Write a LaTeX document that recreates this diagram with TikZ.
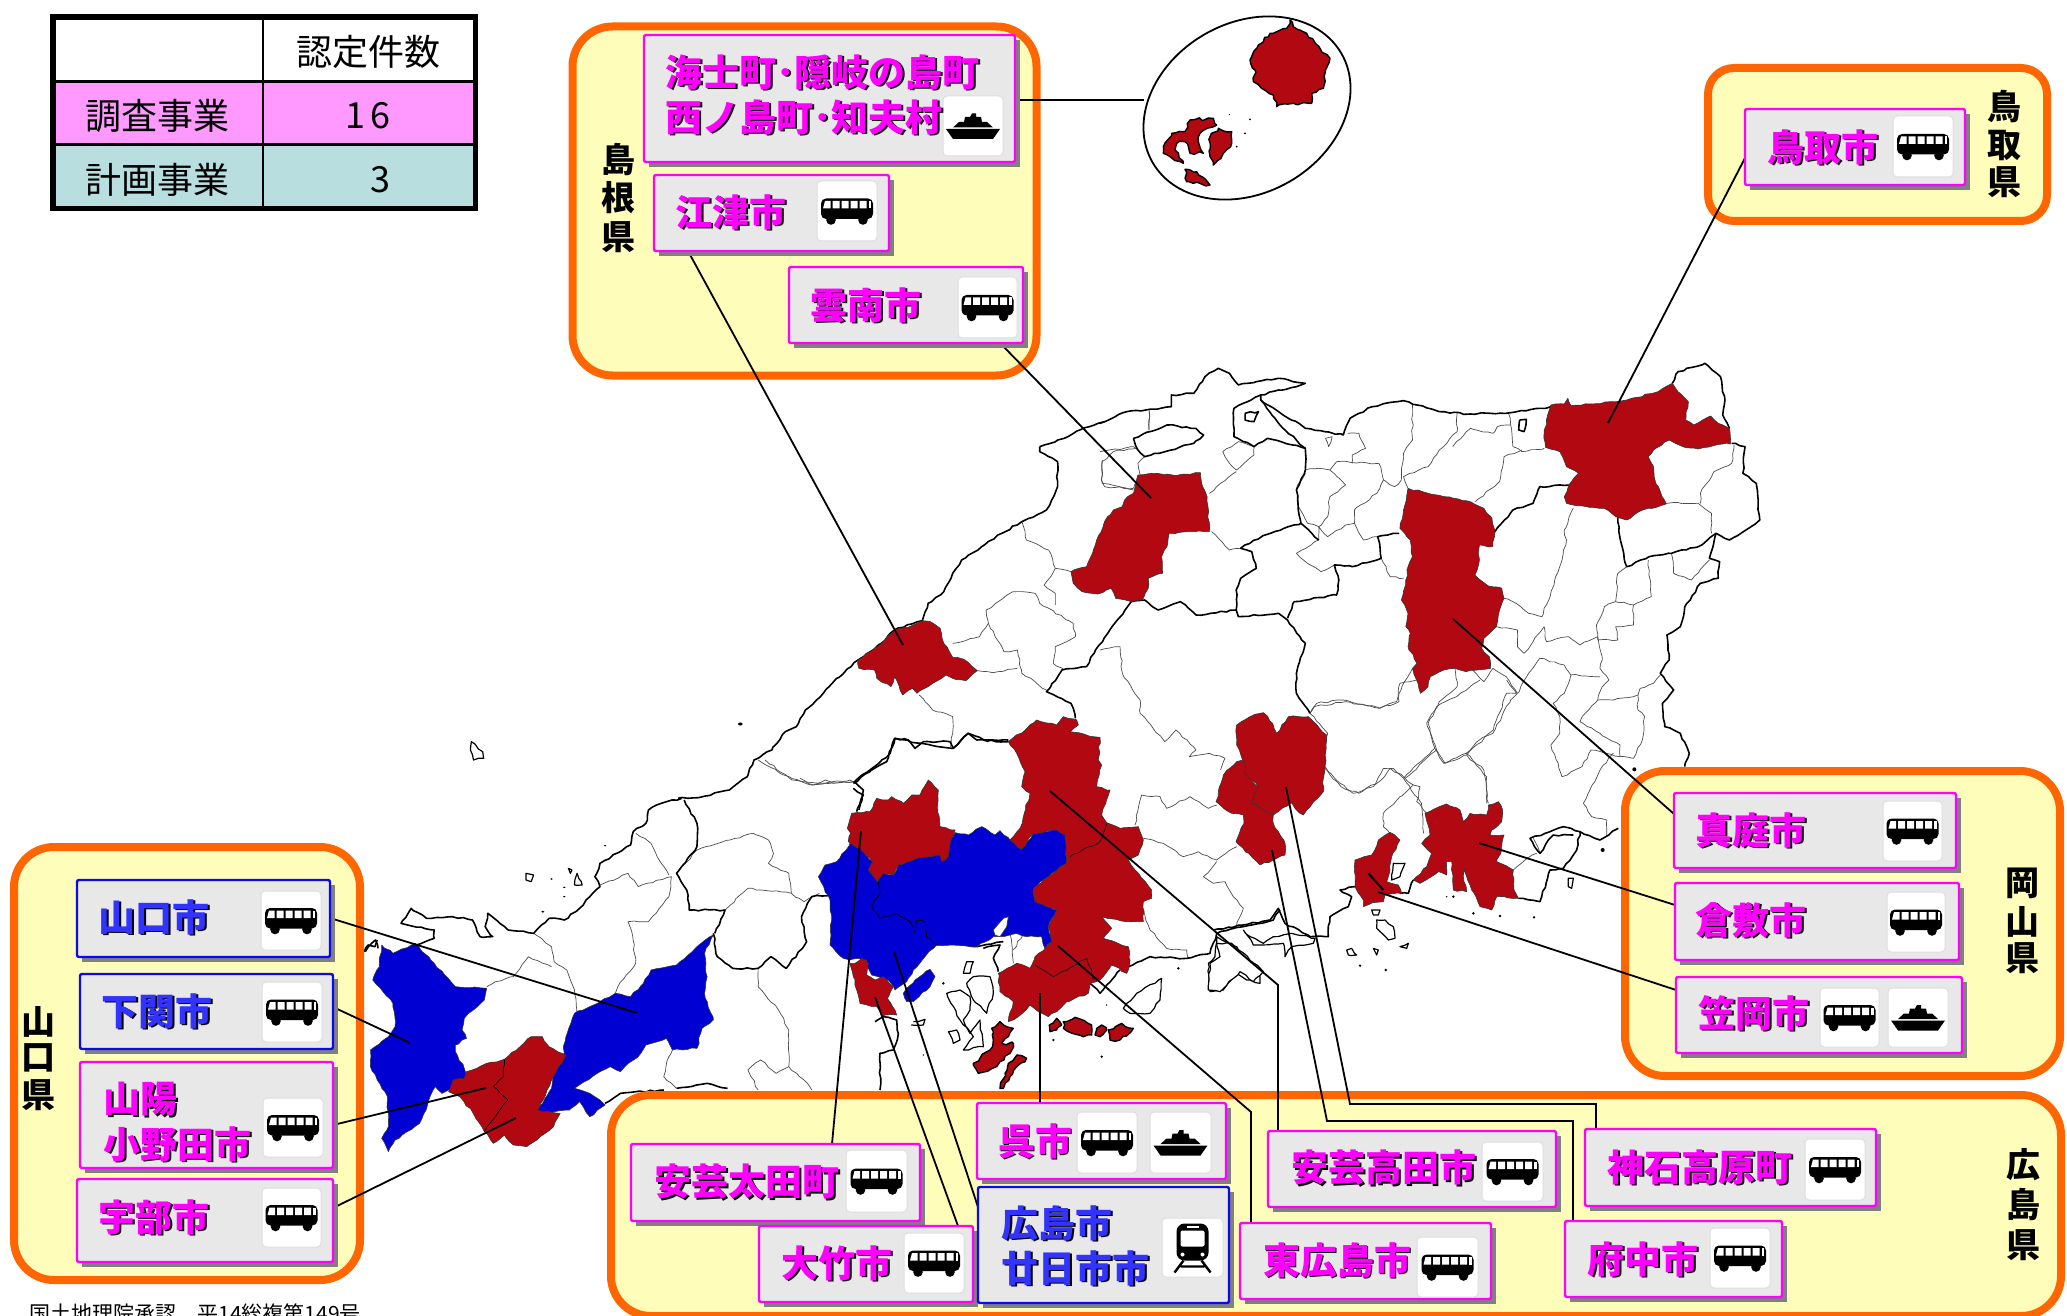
\documentclass[tikz,border=0pt]{standalone}
\usepackage{fontspec}
\setmainfont{Noto Sans CJK JP}
\usetikzlibrary{shapes.geometric,decorations.pathmorphing}
\definecolor{redm}{HTML}{B20811}
\definecolor{bluem}{HTML}{0000D2}
\definecolor{panelo}{HTML}{FF6600}
\definecolor{panely}{HTML}{FFFDB9}
\definecolor{boxg}{HTML}{E8E8E8}
\definecolor{magl}{HTML}{FF00FF}
\definecolor{blul}{HTML}{0A0AF0}
\definecolor{blut}{HTML}{3333FF}
\definecolor{cellp}{HTML}{FF99FF}
\definecolor{cellt}{HTML}{B8DEE0}
\tikzset{
 zmB/.style={shift={(600,340)},xscale=.4464,yscale=.33333},
 zmC/.style={shift={(1100,340)},xscale=.4464,yscale=.33333},
 zmD/.style={shift={(350,700)},xscale=.5102,yscale=.33333},
 zmE/.style={shift={(0,830)},xscale=.4464,yscale=.33333},
 zmJ/.style={shift={(800,700)},xscale=.33333,yscale=.33333},
 zmK/.style={shift={(1200,680)},xscale=.33333,yscale=.33333},
 zmH/.style={shift={(1130,10)},xscale=.33333,yscale=.33333},
 jag/.style={decorate,decoration={random steps,segment length=2.5pt,amplitude=.45pt}},
 jagb/.style={decorate,decoration={random steps,segment length=2.2pt,amplitude=.8pt}},
 thinl/.style={jag,draw=black!70,line width=.35pt,line join=round},
 thickl/.style={jag,draw=black,line width=.8pt,line join=round},
 isl/.style={jag,draw=black,line width=.6pt,line join=round,fill=white},
 redr/.style={jag,draw=black!80,line width=.3pt,fill=redm,line join=round},
 bluer/.style={jag,draw=black!80,line width=.3pt,fill=bluem,line join=round},
 redi/.style={jagb,draw=black,line width=.7pt,fill=redm,line join=round},
 conn/.style={draw=black,line width=.9pt,line join=miter},
 rectn/.style={rectangle,inner sep=0pt,outer sep=0pt,anchor=north west},
 panelbox/.style={rectn,fill=panely,draw=panelo,line width=4pt,rounded corners=20pt},
 magbox/.style={rectn,fill=boxg,draw=magl,line width=1.2pt,rounded corners=1pt},
 blubox/.style={rectn,fill=boxg,draw=blul,line width=1.2pt,rounded corners=1pt},
 tilebox/.style={rectn,fill=white,draw=black!13,line width=.5pt,rounded corners=2pt},
 cellbox/.style={rectn},
 tabt/.style={inner sep=0pt,font=\fontsize{18}{20}\selectfont,text=black},
 preft/.style={inner sep=0pt,font=\fontsize{17}{19}\selectfont\bfseries,text=black},
 labm/.style={inner sep=0pt,font=\fontsize{18.5}{20}\selectfont\bfseries,text=magl},
 labb/.style={inner sep=0pt,font=\fontsize{18.5}{20}\selectfont\bfseries,text=blut},
 labs/.style={inner sep=0pt,font=\fontsize{18.5}{20}\selectfont\bfseries,text=black},
 busicon/.pic={
  \fill[black,rounded corners=2.5pt] (-26,-12.5) rectangle (26,8);
  \fill[black] (-16,9) circle (2.4pt) (16,9) circle (2.4pt);
  \fill[white] (-22,-10) -- (-16.5,-10) -- (-16.5,-2.5) -- (-24,-2.5) -- cycle;
  \fill[white] (-14.5,-10) rectangle (-7.5,-2.5) (-5.5,-10) rectangle (1.5,-2.5)
    (3.5,-10) rectangle (10.5,-2.5) (12.5,-10) rectangle (19.5,-2.5);
  \fill[white] (21.5,-10) rectangle (24,-2.5);
 },
 shipicon/.pic={
  \fill[black] (-27,3) -- (27,3) -- (20,13) -- (-20,13) -- cycle;
  \fill[black] (-20,1.5) -- (20,1.5) -- (14,-4) -- (9,-4) -- (8,-9) -- (3,-9) -- (3,-12.5) -- (-1,-12.5) -- (-3,-9) -- (-8,-9) -- (-9,-4) -- (-14,-4) -- cycle;
 },
 trainicon/.pic={
  \fill[black,rounded corners=4pt] (-16,-24) rectangle (16,13);
  \fill[white,rounded corners=1pt] (-12,-17) rectangle (12,-1);
  \fill[white] (-6,-22) rectangle (6,-20);
  \fill[white] (-10,7) circle (1pt) (10,7) circle (1pt);
  \draw[black,line width=1.2pt] (-9,13) -- (-18,25) (9,13) -- (18,25) (-12,19) -- (12,19);
 },
}
\newcommand{\rectnode}[6]{%
 \pgfmathsetmacro\rw{(#5-#3)*0.5}\pgfmathsetmacro\rh{(#6-#4)*0.5}%
 \node[#1,minimum width=\rw pt,minimum height=\rh pt] (#2) at (#3,#4) {};}
\newcommand{\shbox}[6]{%
 \fill[black!50] (#3+5,#4+5) rectangle (#5+5,#6+5);
 \rectnode{#1}{#2}{#3}{#4}{#5}{#6}}
\newcommand{\tile}[6]{%
 \rectnode{tilebox}{#1}{#2}{#3}{#4}{#5}
 \pic at (#1.center) {#6};}
\newcommand{\lab}[6][center]{%
 \node[labs,anchor=#1] (#2s) at (#3+1.6,#4+1.6) {#6};
 \node[#5,anchor=#1] (#2) at (#3,#4) {#6};}
\newcommand{\vpref}[8]{%
 \node[preft] (#1a) at (#2,#3) {#6};
 \node[preft] (#1b) at (#2,#4) {#7};
 \node[preft] (#1c) at (#2,#5) {#8};}
\begin{document}
\begin{tikzpicture}[x=.5pt,y=-.5pt]
\pgfmathsetseed{4242}
\path[use as bounding box] (0,0) rectangle (2067,1316);
\clip (0,0) rectangle (2067,1316);
\fill[white] (0,0) rectangle (2067,1316);
% ---------- map : thin municipal lines
\begin{scope}[zmC]
\draw[thinl] plot coordinates {(110,215) (110,270)};
\draw[thinl] plot coordinates {(0,335) (75,320) (85,330)};
\draw[thinl] plot coordinates {(100,350) (85,370) (90,405) (75,445)};
\draw[thinl] plot coordinates {(5,360) (3,420) (10,440) (75,445)};
\draw[thinl] plot coordinates {(275,335) (310,305) (345,320) (345,345) (305,390) (280,350) (275,335)};
\draw[thinl] plot coordinates {(245,460) (305,395)};
\draw[thinl] plot coordinates {(250,575) (290,630) (315,625)};
\draw[thinl] plot coordinates {(700,195) (700,300) (680,340) (675,420) (660,440) (635,420) (620,460) (570,510) (570,550) (590,600) (620,590)};
\draw[thinl] plot coordinates {(800,220) (800,275) (760,330) (735,380) (680,410) (690,445)};
\draw[thinl] plot coordinates {(915,220) (920,255) (890,260) (880,280) (830,265) (790,320)};
\draw[thinl] plot coordinates {(920,255) (925,320) (945,335) (995,325)};
\draw[thinl] plot coordinates {(840,485) (895,425) (905,350) (945,330)};
\draw[thinl] plot coordinates {(460,390) (490,385) (515,390) (530,365) (625,370) (635,420)};
\draw[thinl] plot coordinates {(515,390) (550,435) (515,470) (510,530) (490,560) (465,550) (445,500) (440,445) (460,400)};
\draw[thinl] plot coordinates {(490,600) (490,560) (510,590) (550,555) (570,550)};
\draw[thinl] plot coordinates {(490,600) (440,640) (465,670) (495,695) (525,675)};
\draw[thinl] plot coordinates {(630,655) (650,710) (680,715)};
\draw[thinl] plot coordinates {(555,280) (580,280) (595,325) (565,345) (565,370)};
\draw[thinl] plot coordinates {(505,295) (520,290) (512,320) (505,295)};
\draw[thinl] plot coordinates {(1060,505) (1040,570) (1045,600) (1030,680) (990,830) (960,820) (925,785) (905,775)};
\draw[thinl] plot coordinates {(1160,530) (1270,490) (1340,490) (1370,520) (1370,580)};
\draw[thinl] plot coordinates {(1345,490) (1345,460) (1375,395) (1415,370) (1420,315)};
\draw[thinl] plot coordinates {(1280,640) (1285,700) (1325,720) (1365,660)};
\draw[thinl] plot coordinates {(1228,660) (1235,770) (1195,795) (1155,785) (1160,700) (1180,680)};
\draw[thinl] plot coordinates {(1195,795) (1195,855) (1155,860) (1160,900) (1115,900) (1112,855) (1130,800) (1155,785)};
\draw[thinl] plot coordinates {(888,860) (935,870) (935,920) (950,940) (995,860) (1000,905) (1050,890) (1075,915) (1115,890) (1125,960) (1120,985) (1140,1020) (1125,1040) (1115,1080) (1150,1080) (1205,1065) (1210,1045) (1240,1030) (1255,1005)};
\draw[thinl] plot coordinates {(795,985) (800,1040) (760,1085) (735,1150) (750,1225) (770,1270) (820,1240) (850,1200) (880,1180) (920,1080) (935,1060) (910,1010) (880,985) (860,1025) (835,990)};
\draw[thinl] plot coordinates {(985,955) (960,1000) (935,1060)};
\draw[thinl] plot coordinates {(985,955) (1040,975) (1055,1005) (1120,1010)};
\draw[thinl] plot coordinates {(1055,1005) (1040,1060) (1015,1090) (1030,1130) (1030,1180) (1010,1215) (1035,1310) (1080,1280) (1100,1230) (1165,1250)};
\draw[thinl] plot coordinates {(1205,1065) (1205,1110) (1220,1130) (1215,1200) (1195,1255) (1165,1250) (1165,1215) (1120,1180) (1075,1145) (1080,1130) (1115,1080)};
\draw[thinl] plot coordinates {(700,985) (670,1060) (670,1085) (625,1105) (550,1085) (480,1100) (470,1120)};
\draw[thinl] plot coordinates {(470,1120) (510,1180) (500,1280) (540,1340) (580,1360) (630,1320) (650,1285) (680,1315) (750,1225)};
\draw[thinl] plot coordinates {(680,1315) (720,1390) (725,1480)};
\draw[thinl] plot coordinates {(820,1240) (860,1290) (870,1390)};
\draw[thinl] plot coordinates {(0,930) (45,920) (50,1000) (90,1080) (90,1120) (145,1205) (170,1170) (215,1230) (200,1250) (245,1240) (280,1255) (270,1290)};
\end{scope}
\begin{scope}[zmJ]
\draw[thinl] plot coordinates {(1005,375) (1025,285) (1080,290) (1100,325) (1170,290) (1225,325) (1250,315)};
\draw[thinl] plot coordinates {(1030,415) (1090,430) (1150,470) (1195,455) (1250,480) (1310,440)};
\draw[thinl] plot coordinates {(1250,485) (1210,530) (1240,550) (1275,545) (1300,590) (1330,625) (1310,675)};
\draw[thinl] plot coordinates {(1030,630) (1050,690) (1100,745) (1160,750) (1165,775)};
\draw[thinl] plot coordinates {(630,700) (640,790)};
\draw[thinl] plot coordinates {(670,700) (640,750)};
\draw[thinl] plot coordinates {(0,235) (40,255) (75,240) (100,250) (160,245)};
\end{scope}
\begin{scope}[zmB]
\draw[thinl] plot coordinates {(945,545) (955,600) (1005,630) (1020,685) (1055,695)};
\draw[thinl] plot coordinates {(1020,685) (995,735) (1020,760) (1020,795)};
\draw[thinl] plot coordinates {(865,810) (925,755) (975,760) (985,790) (1060,850) (1065,890) (1020,920) (1015,970) (1040,990)};
\draw[thinl] plot coordinates {(865,810) (870,850) (850,890) (790,910)};
\draw[thinl] plot coordinates {(870,850) (905,935) (935,930) (945,1000) (1000,1050)};
\draw[thinl] plot coordinates {(845,992) (880,998) (935,985)};
\draw[thinl] plot coordinates {(715,1065) (745,1110) (790,1130) (790,1180) (785,1220)};
\draw[thinl] plot coordinates {(1230,270) (1230,210)};
\draw[thinl] plot coordinates {(1195,450) (1125,430) (1125,365) (1150,335) (1200,325)};
\draw[thinl] plot coordinates {(370,1260) (430,1320) (490,1330) (570,1325)};
\end{scope}
\begin{scope}[zmK]
\draw[thinl] plot coordinates {(330,100) (350,70) (430,60) (540,85) (590,65) (600,10) (650,0)};
\draw[thinl] plot coordinates {(375,260) (420,310) (460,340) (520,320) (550,265) (580,265) (615,295) (640,315) (600,350) (550,400) (550,440) (570,460)};
\draw[thinl] plot coordinates {(640,315) (660,320) (650,365) (680,400)};
\draw[thinl] plot coordinates {(615,295) (710,210) (735,250) (800,225) (860,290) (860,370)};
\draw[thinl] plot coordinates {(710,210) (680,130) (710,80) (770,50) (840,0)};
\draw[thinl] plot coordinates {(800,225) (880,150) (920,40) (950,40) (920,0)};
\draw[thinl] plot coordinates {(940,570) (975,540) (1010,520)};
\draw[thinl] plot coordinates {(1150,370) (1175,410) (1220,420) (1220,470)};
\draw[thinl] plot coordinates {(1150,370) (1200,270) (1240,220)};
\draw[thinl] plot coordinates {(1000,475) (1020,520)};
\end{scope}
\begin{scope}[zmD]
\draw[thinl] plot coordinates {(360,700) (395,740) (400,785) (425,810) (440,870) (445,940)};
\draw[thinl] plot coordinates {(268,860) (285,845) (320,830) (350,770) (395,800)};
\draw[thinl] plot coordinates {(490,555) (545,520) (565,560) (630,530) (625,590) (600,640) (585,665) (545,665) (555,720) (560,790) (525,860) (520,880)};
\draw[thinl] plot coordinates {(560,400) (590,430) (610,490) (625,525)};
\draw[thinl] plot coordinates {(640,520) (680,450) (745,420) (790,400) (820,420) (830,460) (820,490) (860,520) (865,580) (780,565) (735,630)};
\draw[thinl] plot coordinates {(865,580) (890,605) (920,580)};
\draw[thinl] plot coordinates {(800,805) (800,860) (840,930) (860,990) (860,1100) (890,1140) (905,1170)};
\draw[thinl] plot coordinates {(800,1170) (780,1110) (805,1080) (835,1120) (860,1100)};
\draw[thinl] plot coordinates {(632,1050) (625,1070) (615,1130) (640,1165)};
\draw[thinl] plot coordinates {(800,180) (850,225) (905,255) (980,240) (1000,260)};
\end{scope}
% ---------- map : thick coast and prefecture lines
\begin{scope}[zmB]
\draw[thickl] plot coordinates {(985,320) (985,335) (1025,365) (1025,440) (1000,510) (945,545) (900,580) (855,620) (810,660) (790,700) (770,755) (735,790) (722,842) (660,870) (630,910) (578,960) (530,1015) (500,1060) (460,1110) (440,1160) (415,1175) (385,1230) (345,1260) (330,1310) (290,1350) (230,1370) (175,1375)};
\draw[thickl] plot coordinates {(985,320) (1040,295) (1075,270) (1130,245)};
\draw[thickl] plot coordinates {(915,1200) (860,1200) (825,1180) (790,1225) (720,1210) (660,1195) (650,1240) (570,1325) (590,1350) (580,1410)};
\draw[thickl] plot coordinates {(1065,1135) (1055,1090) (1000,1055) (1035,990) (1090,980) (1110,930) (1190,785)};
\end{scope}
\begin{scope}[zmC]
\draw[thickl] plot coordinates {(0,250) (60,215) (160,200) (160,165) (210,160) (235,110) (265,85) (290,100) (310,135) (350,125) (400,115) (460,130) (440,140) (400,150) (360,165) (300,205) (300,290) (345,320) (375,295) (460,325) (460,390) (440,450) (450,550)};
\draw[thickl] plot coordinates {(75,295) (150,255) (215,265) (232,285) (210,310) (100,350) (85,330) (75,295)};
\draw[thickl] plot coordinates {(325,220) (355,215) (345,245) (325,240) (325,220)};
\draw[thickl] plot coordinates {(360,180) (400,215) (460,265) (545,285) (560,235) (610,200) (680,182) (760,215) (830,222) (920,218) (1010,200)};
\draw[thickl] plot coordinates {(360,165) (360,180) (385,225) (400,250) (460,325)};
\draw[thickl] plot coordinates {(940,240) (955,238) (950,275) (938,270) (940,240)};
\draw[thickl] plot coordinates {(70,785) (100,780) (130,810) (180,785) (215,825) (305,810) (310,830) (400,820) (420,840) (460,910) (440,1000) (440,1060) (470,1120)};
\draw[thickl] plot coordinates {(305,810) (305,750) (315,715) (350,685) (340,635) (315,625) (370,585) (450,550) (490,600)};
\draw[thickl] plot coordinates {(420,835) (435,785) (530,765) (535,720) (525,675) (565,680) (630,655) (622,590) (670,580)};
\draw[thickl] plot coordinates {(885,575) (925,510) (970,490) (985,440) (1050,435)};
\draw[thickl] plot coordinates {(1160,530) (1165,595) (1180,680) (1230,650) (1280,640) (1340,620) (1380,580) (1410,600) (1478,540) (1470,430) (1440,400) (1445,320) (1415,310)};
\draw[thickl] plot coordinates {(1282,130) (1295,95) (1355,70) (1390,110) (1400,180) (1395,225) (1410,265)};
\draw[thickl] plot coordinates {(1380,580) (1365,655) (1388,665) (1385,715) (1345,730) (1310,800) (1300,860) (1270,885) (1275,960) (1255,1000) (1285,1050) (1260,1090) (1265,1160) (1300,1180) (1320,1240) (1310,1280)};
\end{scope}
\begin{scope}[zmJ]
\draw[thickl] plot coordinates {(160,250) (215,210) (260,185) (285,115) (325,120) (345,145) (370,125) (450,125) (460,145) (505,100) (530,120) (625,125)};
\draw[thickl] plot coordinates {(160,265) (190,285) (170,335)};
\draw[thickl] plot coordinates {(410,735) (470,730) (530,740) (610,725)};
\draw[thickl] plot coordinates {(985,800) (1050,770) (1160,775) (1230,760) (1250,700) (1330,680) (1420,660) (1440,630)};
\draw[isl] plot coordinates {(1225,790) (1245,770) (1250,710) (1265,720) (1310,740) (1340,790) (1380,830) (1380,850) (1340,840) (1310,820) (1270,870) (1230,875)} -- cycle;
\draw[isl] plot coordinates {(440,880) (480,870) (510,890) (510,930) (490,960) (510,1000) (540,960) (550,1040) (490,1050) (520,1010) (480,960)} -- cycle;
\draw[isl] plot coordinates {(445,995) (470,990) (480,1020) (460,1030)} -- cycle;
\draw[isl] plot coordinates {(500,850) (520,830) (570,830) (580,880) (560,940) (520,900)} -- cycle;
\draw[isl] plot coordinates {(500,785) (520,785) (510,820) (490,820)} -- cycle;
\draw[isl] plot coordinates {(970,925) (1010,880) (1085,835) (1080,900) (1050,940) (990,940)} -- cycle;
\draw[thickl] plot coordinates {(225,965) (250,950) (290,960) (295,1000) (280,1050) (240,1060) (240,1170)};
\draw[isl] plot coordinates {(340,965) (375,958) (370,975) (345,975)} -- cycle;
\draw[thickl] plot coordinates {(550,745) (600,735) (580,775) (595,815)};
\draw[thickl] plot coordinates {(870,850) (900,880) (935,840) (960,810)};
\fill[black] (905,1070) circle (2pt) (430,850) circle (2pt) (1135,805) circle (2pt) (760,1020) circle (2pt) (370,1065) circle (1.2pt) (920,915) circle (1.2pt);
\end{scope}
\begin{scope}[zmK]
\draw[thickl] plot coordinates {(40,750) (130,735) (210,720) (235,685) (255,730) (330,770) (385,770) (390,710) (445,680) (455,650) (420,630) (465,620)};
\draw[isl] plot coordinates {(130,750) (150,770) (190,790) (220,770) (275,760) (345,775) (340,790) (275,800) (255,830) (250,790) (160,795)} -- cycle;
\draw[isl] plot coordinates {(25,930) (30,850) (60,830) (50,790) (95,790) (190,875) (160,905) (120,875) (60,935)} -- cycle;
\draw[isl] plot coordinates {(440,810) (455,805) (470,825) (445,825)} -- cycle;
\draw[isl] plot coordinates {(530,720) (555,720) (580,740) (585,775) (565,780) (530,745)} -- cycle;
\draw[isl] plot coordinates {(520,805) (535,810) (530,825)} -- cycle;
\draw[isl] plot coordinates {(600,800) (625,790) (620,805)} -- cycle;
\draw[isl] plot coordinates {(515,690) (540,690) (535,705) (520,705)} -- cycle;
\draw[isl] plot coordinates {(575,600) (580,550) (615,550) (600,590)} -- cycle;
\draw[thickl] plot coordinates {(600,640) (625,640) (640,600)};
\draw[thickl] plot coordinates {(955,655) (1020,665) (1050,570) (1090,565) (1130,510) (1140,455) (1090,440) (1035,460) (990,475) (1020,520) (1045,480) (1060,465) (1120,465)};
\draw[thickl] plot coordinates {(1140,455) (1200,480) (1255,445)};
\draw[isl] plot coordinates {(1105,595) (1120,595) (1115,625) (1105,620)} -- cycle;
\fill[black] (480,857) circle (2pt) (557,870) circle (2pt) (820,700) circle (2pt) (900,708) circle (2pt) (1002,712) circle (2pt) (1208,510) circle (3pt) (1303,268) circle (3pt) (760,650) circle (2pt) (740,650) circle (1.2pt);
\end{scope}
\begin{scope}[zmD]
\draw[thickl] plot coordinates {(650,295) (610,310) (585,330) (580,370) (555,395) (550,435) (490,490) (480,530) (490,560) (470,590) (450,625) (420,660) (390,655) (360,700) (310,690) (270,640) (265,680) (280,710) (255,710) (240,660) (200,650) (150,655) (120,625) (100,670) (165,690) (165,715) (130,735)};
\draw[thickl] plot coordinates {(655,300) (680,370) (680,440) (640,520) (660,570) (665,630) (735,630) (715,700)};
\draw[thickl] plot coordinates {(712,700) (720,770) (750,805) (800,805) (825,770) (855,805) (895,725) (885,650) (905,590) (940,585)};
\draw[thickl] plot coordinates {(30,755) (50,720) (55,745)};
\draw[thickl] plot coordinates {(500,1210) (530,1180) (615,1170)};
\draw[thickl] plot coordinates {(640,1165) (700,1150) (740,1165)};
\draw[isl] plot coordinates {(238,125) (260,155) (262,175) (242,180) (236,150)} -- cycle;
\draw[isl] plot coordinates {(345,520) (360,525) (355,545) (345,540)} -- cycle;
\draw[isl] plot coordinates {(445,520) (455,555) (440,555)} -- cycle;
\draw[isl] plot coordinates {(428,505) (435,510) (432,520)} -- cycle;
\fill[black] (765,72) circle (2.3pt) (395,537) circle (1.2pt) (420,562) circle (1.2pt) (420,590) circle (1.2pt) (378,635) circle (1.5pt) (500,437) circle (1.2pt);
\end{scope}
% ---------- map : coloured municipalities
\begin{scope}[zmJ]
\path[bluer] plot coordinates {(150,430) (175,445) (218,485) (205,510) (232,545) (250,520) (280,525) (295,495) (350,475) (420,465) (425,485) (445,470) (452,420) (465,398) (505,405) (545,380) (585,405) (600,392) (630,420) (665,448) (700,400) (770,390) (795,405) (800,490) (780,500) (745,530) (700,565) (705,605) (770,630) (745,680) (755,725) (735,745) (725,710) (680,710) (650,700) (610,710) (580,710) (530,740) (410,735) (375,770) (340,810) (320,845) (285,870) (265,840) (235,830) (215,825) (205,805) (200,780) (175,775) (150,780) (130,775) (90,735) (95,660) (90,600) (55,530) (75,495) (110,485)} -- cycle;
\path[fill=white,draw=black!80,line width=.3pt] plot coordinates {(580,690) (610,655) (625,650) (620,680) (600,710) (585,705)} -- cycle;
\path[bluer] plot coordinates {(310,880) (345,840) (390,808) (405,830) (390,860) (340,905) (320,905)} -- cycle;
\draw[thinl,draw=black] plot coordinates {(235,545) (240,575) (215,620) (240,655) (290,640) (330,665) (345,700) (350,660) (375,665) (380,710) (410,735)};
\path[redr] plot coordinates {(385,240) (415,270) (412,320) (420,380) (465,390) (452,420) (445,470) (425,485) (420,465) (350,475) (295,495) (280,525) (250,520) (232,545) (205,510) (218,485) (175,445) (145,425) (152,400) (142,385) (155,340) (210,335) (230,295) (265,300) (275,290) (310,310) (335,285) (360,285)} -- cycle;
\path[redr] plot coordinates {(150,790) (165,790) (185,775) (205,790) (200,825) (225,840) (250,830) (280,860) (262,895) (285,930) (290,945) (245,948) (230,920) (180,910) (170,870) (160,830)} -- cycle;
\path[redr] plot coordinates {(625,125) (680,85) (710,60) (770,75) (790,50) (830,60) (835,75) (810,95) (900,112) (895,180) (905,195) (890,260) (930,270) (905,345) (920,368) (960,385) (1015,380) (1030,420) (1015,465) (985,480) (1005,510) (1055,570) (1055,595) (1030,605) (1030,665) (980,665) (905,650) (935,685) (910,715) (985,740) (990,780) (980,820) (935,795) (900,840) (870,850) (865,880) (800,905) (770,935) (745,950) (715,935) (690,915) (655,950) (625,965) (640,905) (600,875) (595,820) (650,790) (690,805) (705,770) (735,745) (755,725) (745,680) (770,630) (705,605) (700,565) (745,530) (780,500) (800,490) (795,405) (770,390) (700,400) (665,448) (630,420) (660,385) (690,280) (665,260) (675,215) (650,160)} -- cycle;
\draw[thinl,draw=black!90] plot coordinates {(810,470) (900,425) (920,370)};
\draw[thinl,draw=black!90] plot coordinates {(705,795) (760,830) (860,775) (875,810) (880,840)};
\path[redi] plot coordinates {(575,985) (600,965) (640,985) (625,1010) (605,1030) (640,1030) (630,1060) (600,1085) (590,1100) (535,1120) (520,1090) (570,1050) (580,1020)} -- cycle;
\path[redi] plot coordinates {(625,1090) (650,1065) (680,1075) (650,1100) (630,1130) (610,1165) (600,1165) (615,1120)} -- cycle;
\path[redi] plot coordinates {(748,975) (770,955) (785,975) (770,990) (750,995)} -- cycle;
\path[redi] plot coordinates {(790,965) (825,952) (875,975) (875,1005) (850,1010) (790,985)} -- cycle;
\path[redi] plot coordinates {(890,985) (905,975) (920,990) (900,1010) (885,1005)} -- cycle;
\path[redi] plot coordinates {(925,990) (965,970) (1000,985) (960,1020) (930,1020)} -- cycle;
\end{scope}
\begin{scope}[zmK]
\path[redr] plot coordinates {(110,245) (135,240) (135,280) (175,320) (155,370) (220,405) (220,430) (255,490) (255,525) (220,540) (180,555) (108,485) (132,430) (130,405) (95,400) (48,365) (70,285)} -- cycle;
\path[redr] plot coordinates {(110,135) (150,110) (190,98) (218,130) (230,160) (265,110) (325,110) (380,165) (375,260) (370,295) (370,335) (310,405) (285,385) (275,368) (220,405) (155,370) (175,320) (135,280) (135,250) (110,195)} -- cycle;
\path[redr] plot coordinates {(465,540) (515,525) (535,480) (570,457) (600,480) (575,530) (570,570) (560,605) (595,615) (605,640) (555,645) (550,665) (510,672) (490,680) (490,660) (465,620)} -- cycle;
\draw[black,line width=1pt] plot coordinates {(505,580) (550,630)};
\path[redr] plot coordinates {(675,400) (740,372) (780,390) (790,425) (810,400) (860,405) (865,375) (895,365) (908,390) (905,425) (875,450) (870,465) (912,465) (905,510) (890,545) (940,570) (942,630) (955,655) (890,650) (875,690) (840,680) (815,630) (800,590) (795,565) (790,590) (800,635) (760,630) (755,545) (740,545) (740,585) (715,575) (660,610) (640,600) (680,560) (695,520) (665,490) (690,465)} -- cycle;
\end{scope}
\begin{scope}[zmC]
\path[redr] plot coordinates {(1010,195) (1040,192) (1048,175) (1055,197) (1100,192) (1180,180) (1250,155) (1282,130) (1300,160) (1318,185) (1312,240) (1330,255) (1350,240) (1368,228) (1385,250) (1410,265) (1413,312) (1395,312) (1340,327) (1310,322) (1275,300) (1240,330) (1228,350) (1240,380) (1245,430) (1268,492) (1215,510) (1180,540) (1155,530) (1130,505) (1090,500) (1045,490) (1040,470) (1050,435) (1072,400) (1045,380) (1030,335) (998,322) (995,270)} -- cycle;
\path[redr] plot coordinates {(690,445) (730,458) (770,470) (820,482) (860,505) (878,535) (885,575) (880,620) (850,615) (850,660) (840,705) (870,738) (900,745) (905,775) (895,810) (888,860) (860,895) (855,925) (872,950) (875,985) (820,995) (795,985) (770,990) (740,1010) (735,1040) (718,1060) (700,985) (710,970) (690,920) (695,880) (685,860) (690,820) (675,780) (685,720) (690,680) (700,650) (695,600) (672,565) (680,510)} -- cycle;
\end{scope}
\begin{scope}[zmB]
\path[redr] plot coordinates {(1205,405) (1240,400) (1290,407) (1345,398) (1350,440) (1360,470) (1365,575) (1320,575) (1275,580) (1270,620) (1258,650) (1260,700) (1228,715) (1228,745) (1215,780) (1190,785) (1155,775) (1145,745) (1115,762) (1080,755) (1060,730) (1055,695) (1090,680) (1105,630) (1130,545) (1150,510) (1170,500) (1175,480) (1195,460)} -- cycle;
\path[redr] plot coordinates {(722,842) (740,845) (762,865) (770,910) (790,952) (815,958) (845,992) (820,1022) (790,1015) (775,1005) (745,1030) (710,1060) (700,1045) (678,1065) (660,1010) (652,1040) (620,1015) (615,990) (580,985) (578,960) (630,910) (660,870) (690,862)} -- cycle;
\end{scope}
\begin{scope}[zmD]
\path[bluer] plot coordinates {(712,705) (695,760) (700,830) (695,880) (712,960) (690,985) (680,1045) (632,1050) (620,1015) (580,1035) (570,1060) (530,1115) (510,1100) (475,1130) (440,1165) (470,1180) (490,1200) (500,1215) (470,1250) (450,1205) (430,1230) (380,1240) (365,1235) (395,1165) (400,1100) (420,1060) (418,1040) (440,940) (490,905) (520,880) (550,890) (575,850) (590,810) (640,795) (680,740)} -- cycle;
\end{scope}
\begin{scope}[zmE]
\path[bluer] plot coordinates {(855,345) (880,370) (930,340) (965,390) (1020,470) (1090,475) (1085,510) (1040,565) (1035,600) (1045,625) (1020,645) (1020,665) (1040,715) (1045,745) (1005,780) (990,790) (975,770) (940,880) (885,930) (870,965) (855,925) (870,890) (868,800) (830,710) (830,660) (870,620) (885,590) (880,520) (835,450) (850,410)} -- cycle;
\path[redr] plot coordinates {(1130,688) (1165,650) (1190,620) (1215,620) (1230,650) (1268,675) (1240,740) (1205,840) (1255,850) (1240,890) (1180,950) (1150,945) (1130,915) (1105,940) (1085,905) (1060,850) (1030,800) (1005,785) (1015,750) (1040,745) (1045,725) (1090,700)} -- cycle;
\draw[thinl,draw=black] plot coordinates {(1130,688) (1128,740) (1105,770) (1138,810) (1110,860) (1085,905)};
\draw[thickl] plot coordinates {(815,365) (825,345) (840,350) (845,330)};
\end{scope}
% ---------- oval with the Oki islands
\node[draw=black,line width=.9pt,ellipse,fill=white,inner sep=0pt,rotate=30,minimum width=109pt,minimum height=85pt] (oval) at (1247,108) {};
\begin{scope}[zmH]
\path[redi] plot coordinates {(480,30) (490,50) (530,70) (570,115) (600,145) (585,190) (580,235) (545,250) (545,280) (490,280) (440,290) (430,255) (395,235) (370,215) (375,180) (360,150) (385,105) (420,70) (470,55)} -- cycle;
\path[redi] plot coordinates {(100,410) (125,370) (165,365) (180,330) (250,325) (260,345) (210,370) (205,395) (220,430) (180,430) (165,395) (140,400) (135,420) (160,460) (120,440) (100,430)} -- cycle;
\path[redi] plot coordinates {(240,380) (265,355) (305,365) (305,400) (280,430) (250,465) (240,440)} -- cycle;
\path[redi] plot coordinates {(165,478) (200,485) (240,525) (190,520) (170,515)} -- cycle;
\fill[black] (360,328) circle (1.5pt) (298,314) circle (1pt) (345,370) circle (1.5pt) (320,410) circle (1.5pt);
\end{scope}
% ---------- prefecture panels
\rectnode{panelbox}{pShimane}{572.5}{26.5}{1036.5}{375.5}
\rectnode{panelbox,rounded corners=13pt}{pTottori}{1708}{68}{2047}{221}
\rectnode{panelbox}{pOkayama}{1625}{771}{2060}{1076}
\rectnode{panelbox}{pHiroshima}{611}{1095}{2061}{1316}
\rectnode{panelbox}{pYamaguchi}{14}{847}{360}{1280}
% ---------- table
\fill[black] (50,14) rectangle (478,211);
\rectnode{cellbox,fill=white}{c11}{56}{20}{262}{80}
\rectnode{cellbox,fill=white}{c12}{264}{20}{473}{80}
\rectnode{cellbox,fill=cellp}{c21}{56}{83}{262}{143}
\rectnode{cellbox,fill=cellp}{c22}{264}{83}{473}{143}
\rectnode{cellbox,fill=cellt}{c31}{56}{146}{262}{206}
\rectnode{cellbox,fill=cellt}{c32}{264}{146}{473}{206}
\node[tabt] (tA) at (368,52) {認定件数};
\node[tabt] (tB) at (157,116) {調査事業};
\node[tabt] (tC) at (368,116) {1\kern3pt 6};
\node[tabt] (tD) at (157,180) {計画事業};
\node[tabt] (tE) at (380,180) {3};
% ---------- free ends of the connectors
\coordinate (eOval) at (1144,100);
\coordinate (eGotsu) at (903,645);
\coordinate (eUnnan) at (1151,498);
\coordinate (eTottori) at (1608,423);
\coordinate (eManiwa) at (1453,619);
\coordinate (eKurashiki) at (1479,843);
\coordinate (eKasaoka) at (1378,892);
\coordinate (eAkiota) at (861,831);
\coordinate (eOtake) at (875,997);
\coordinate (eHiroshima) at (894,952);
\coordinate (eKure) at (1040,993);
\coordinate (eHigashi) at (1058,946);
\coordinate (eAkitakata) at (1050,791);
\coordinate (eFuchu) at (1272,850);
\coordinate (eJinseki) at (1286,787);
\coordinate (eYamaguchi) at (637,1013);
\coordinate (eShimo) at (410,1043);
\coordinate (eSanyo) at (486,1088);
\coordinate (eUbe) at (516,1118);
% ---------- boxes (drawn later, connectors end on their borders)
\rectnode{magbox,draw=none,fill=none}{ama}{644}{35}{1015}{162}
\rectnode{magbox,draw=none,fill=none}{gotsu}{654}{175}{889}{251}
\rectnode{magbox,draw=none,fill=none}{unnan}{789}{267}{1023}{343}
\rectnode{magbox,draw=none,fill=none}{tottori}{1745}{109}{1965}{185}
\rectnode{magbox,draw=none,fill=none}{maniwa}{1674}{793}{1956}{868}
\rectnode{magbox,draw=none,fill=none}{kurashiki}{1675}{883}{1959}{960}
\rectnode{magbox,draw=none,fill=none}{kasaoka}{1676}{977}{1962}{1053}
\rectnode{magbox,draw=none,fill=none}{akiota}{631}{1144}{920}{1221}
\rectnode{magbox,draw=none,fill=none}{otake}{759}{1226}{973}{1302}
\rectnode{magbox,draw=none,fill=none}{kure}{977}{1103}{1226}{1179}
\rectnode{magbox,draw=none,fill=none}{hiroshima}{978}{1187}{1229}{1303}
\rectnode{magbox,draw=none,fill=none}{akitakata}{1268}{1131}{1556}{1207}
\rectnode{magbox,draw=none,fill=none}{jinseki}{1585}{1129}{1876}{1206}
\rectnode{magbox,draw=none,fill=none}{higashi}{1240}{1223}{1491}{1299}
\rectnode{magbox,draw=none,fill=none}{fuchu}{1565}{1221}{1782}{1297}
\rectnode{magbox,draw=none,fill=none}{yamaguchi}{77}{880}{330}{957}
\rectnode{magbox,draw=none,fill=none}{shimo}{80}{974}{333}{1049}
\rectnode{magbox,draw=none,fill=none}{sanyo}{80}{1062}{333}{1168}
\rectnode{magbox,draw=none,fill=none}{ube}{77}{1179}{333}{1262}
% ---------- connectors
\draw[conn] (ama.east |- eOval) -- (eOval);
\draw[conn] (gotsu.south -| 688,0) -- (eGotsu);
\draw[conn] (unnan.south -| 1000,0) -- (eUnnan);
\draw[conn] (tottori.west |- 0,158) -- (eTottori);
\draw[conn] (maniwa.west |- 0,814) -- (eManiwa);
\draw[conn] (kurashiki.west |- 0,905) -- (eKurashiki);
\draw[conn] (kasaoka.west |- 0,990) -- (eKasaoka);
\draw[conn] (akiota.north -| 832,0) -- (eAkiota);
\draw[conn] (otake.north -| 958,0) -- (eOtake);
\draw[conn] (hiroshima.west |- 0,1207) -- (eHiroshima);
\draw[conn] (kure.north -| eKure) -- (eKure);
\draw[conn] (higashi.north -| 1251,0) -- (1251,1112) -- (eHigashi);
\draw[conn] (akitakata.north -| 1278,0) -- (1278,985) -- (eAkitakata);
\draw[conn] (fuchu.north -| 1573,0) -- (1573,1121) -- (1327,1121) -- (eFuchu);
\draw[conn] (jinseki.north -| 1596,0) -- (1596,1104) -- (1350,1104) -- (eJinseki);
\draw[conn] (yamaguchi.east |- 0,918) -- (eYamaguchi);
\draw[conn] (shimo.east |- 0,1007) -- (eShimo);
\draw[conn] (sanyo.east |- 0,1125) -- (eSanyo);
\draw[conn] (ube.east |- 0,1208) -- (eUbe);
% ---------- visible boxes
\shbox{magbox}{bAma}{644}{35}{1015}{162}
\shbox{magbox}{bGotsu}{654}{175}{889}{251}
\shbox{magbox}{bUnnan}{789}{267}{1023}{343}
\shbox{magbox}{bTottori}{1745}{109}{1965}{185}
\shbox{magbox}{bManiwa}{1674}{793}{1956}{868}
\shbox{magbox}{bKurashiki}{1675}{883}{1959}{960}
\shbox{magbox}{bKasaoka}{1676}{977}{1962}{1053}
\shbox{magbox}{bAkiota}{631}{1144}{920}{1221}
\shbox{magbox}{bOtake}{759}{1226}{973}{1302}
\shbox{magbox}{bKure}{977}{1103}{1226}{1179}
\shbox{blubox}{bHiroshima}{978}{1187}{1229}{1303}
\shbox{magbox}{bAkitakata}{1268}{1131}{1556}{1207}
\shbox{magbox}{bJinseki}{1585}{1129}{1876}{1206}
\shbox{magbox}{bHigashi}{1240}{1223}{1491}{1299}
\shbox{magbox}{bFuchu}{1565}{1221}{1782}{1297}
\shbox{blubox}{bYamaguchi}{77}{880}{330}{957}
\shbox{blubox}{bShimo}{80}{974}{333}{1049}
\shbox{magbox}{bSanyo}{80}{1062}{333}{1168}
\shbox{magbox}{bUbe}{77}{1179}{333}{1262}
% ---------- icons
\tile{iAma}{943}{96}{1003}{156}{shipicon}
\tile{iGotsu}{817}{181}{877}{241}{busicon}
\tile{iUnnan}{958}{277}{1017}{338}{busicon}
\tile{iTottori}{1893}{116}{1953}{177}{busicon}
\tile{iManiwa}{1883}{801}{1942}{861}{busicon}
\tile{iKurashiki}{1887}{892}{1945}{952}{busicon}
\tile{iKasaokaA}{1820}{988}{1879}{1047}{busicon}
\tile{iKasaokaB}{1888}{988}{1948}{1047}{shipicon}
\tile{iAkiota}{846}{1150}{907}{1212}{busicon}
\tile{iOtake}{904}{1233}{964}{1293}{busicon}
\tile{iKureA}{1077}{1112}{1137}{1173}{busicon}
\tile{iKureB}{1150}{1112}{1211}{1173}{shipicon}
\tile{iHiroshima}{1162}{1218}{1223}{1277}{trainicon}
\tile{iAkitakata}{1482}{1142}{1543}{1201}{busicon}
\tile{iJinseki}{1805}{1139}{1865}{1200}{busicon}
\tile{iHigashi}{1417}{1237}{1478}{1297}{busicon}
\tile{iFuchu}{1710}{1228}{1770}{1288}{busicon}
\tile{iYamaguchi}{261}{891}{321}{950}{busicon}
\tile{iShimo}{262}{982}{322}{1042}{busicon}
\tile{iSanyo}{263}{1098}{323}{1157}{busicon}
\tile{iUbe}{262}{1188}{321}{1247}{busicon}
% ---------- labels
\lab[west]{lAmaA}{665}{72}{labm}{海士町･隠岐の島町}
\lab[west]{lAmaB}{665}{117}{labm}{西ノ島町･知夫村}
\lab{lGotsu}{731}{212}{labm}{江津市}
\lab{lUnnan}{866}{305}{labm}{雲南市}
\lab{lTottori}{1823}{147}{labm}{鳥取市}
\lab{lManiwa}{1751}{830}{labm}{真庭市}
\lab{lKurashiki}{1751}{920}{labm}{倉敷市}
\lab{lKasaoka}{1754}{1013}{labm}{笠岡市}
\lab{lAkiota}{747}{1182}{labm}{安芸太田町}
\lab{lOtake}{837}{1263}{labm}{大竹市}
\lab{lKure}{1035}{1141}{labm}{呉市}
\lab[west]{lHiroA}{1001}{1223}{labb}{広島市}
\lab[west]{lHiroB}{1001}{1268}{labb}{廿日市市}
\lab{lAkitakata}{1384}{1168}{labm}{安芸高田市}
\lab{lJinseki}{1700}{1167}{labm}{神石高原町}
\lab{lHigashi}{1337}{1260}{labm}{東広島市}
\lab{lFuchu}{1643}{1259}{labm}{府中市}
\lab{lYamaguchi}{154}{917}{labb}{山口市}
\lab{lShimo}{157}{1011}{labb}{下関市}
\lab[west]{lSanyoA}{103}{1099}{labm}{山陽}
\lab[west]{lSanyoB}{103}{1144}{labm}{小野田市}
\lab{lUbe}{154}{1217}{labm}{宇部市}
\vpref{vShimane}{618}{160}{198}{237}{島}{根}{県}
\vpref{vTottori}{2004}{107}{145}{182}{鳥}{取}{県}
\vpref{vOkayama}{2022}{883}{922}{958}{岡}{山}{県}
\vpref{vHiroshima}{2023}{1165}{1205}{1245}{広}{島}{県}
\vpref{vYamaguchi}{38}{1022}{1058}{1095}{山}{口}{県}
\node[inner sep=0pt,anchor=west,font=\fontsize{10.5}{12}\selectfont] (foot) at (29,1313) {国土地理院承認　平14総複第149号};
\end{tikzpicture}
\end{document}
